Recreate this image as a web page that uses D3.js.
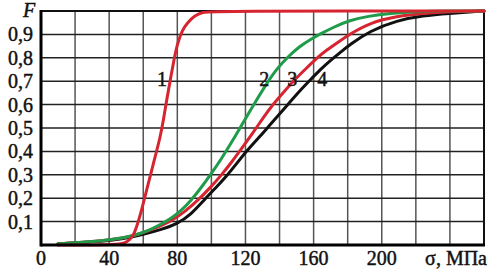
<!DOCTYPE html>
<html>
<head>
<meta charset="utf-8">
<script src="https://cdn.jsdelivr.net/npm/d3@7"></script>
<style>
  html, body { margin: 0; padding: 0; background: #fff; }
  svg { display: block; }
  svg text { font-family: "Liberation Serif", "DejaVu Serif", "Times New Roman", serif; }
</style>
</head>
<body>
<div id="chart"></div>
<script>
// sigma, MPa / probability F for each curve
var sigma1 = [10, 30, 46, 50, 54, 56, 58, 62, 66, 70, 72, 74, 76, 78, 80, 83, 86, 90, 95, 100, 260];
var prob1  = [0, 0, 0.003, 0.01, 0.035, 0.075, 0.12, 0.235, 0.35, 0.46, 0.54, 0.63, 0.71, 0.79, 0.86, 0.92, 0.95, 0.98, 0.995, 1, 1];

var sigma2 = [10, 20, 30, 40, 50, 58, 64, 70, 76, 82, 88, 94, 100, 106, 112, 118, 124, 132, 138, 145, 152, 158, 164, 172, 181, 192, 205, 220, 240, 260];
var prob2  = [0.005, 0.01, 0.015, 0.022, 0.032, 0.048, 0.065, 0.087, 0.112, 0.145, 0.19, 0.245, 0.305, 0.37, 0.44, 0.515, 0.59, 0.685, 0.75, 0.805, 0.85, 0.878, 0.902, 0.932, 0.96, 0.978, 0.99, 0.997, 1, 1];

var sigma3 = [10, 30, 50, 60, 68, 76, 84, 92, 100, 106, 112, 118, 124, 130, 136, 142, 148, 155, 162, 168, 174, 181, 193, 209, 224, 240, 260];
var prob3  = [0.005, 0.013, 0.03, 0.052, 0.075, 0.1, 0.14, 0.19, 0.25, 0.3, 0.355, 0.415, 0.475, 0.54, 0.6, 0.65, 0.7, 0.75, 0.8, 0.835, 0.865, 0.9, 0.95, 0.978, 0.99, 0.997, 1];

var sigma4 = [10, 30, 50, 60, 70, 80, 88, 96, 102, 109, 115, 121, 128, 134, 140, 146, 152, 158, 164, 170, 176, 181, 193, 209, 224, 240, 255, 260];
var prob4  = [0.005, 0.012, 0.028, 0.045, 0.065, 0.09, 0.13, 0.195, 0.24, 0.295, 0.35, 0.405, 0.46, 0.51, 0.56, 0.61, 0.66, 0.705, 0.75, 0.79, 0.825, 0.855, 0.915, 0.96, 0.98, 0.99, 0.997, 1];

var xTicks = [0, 40, 80, 120, 160, 200];
var yTicks = [0.1, 0.2, 0.3, 0.4, 0.5, 0.6, 0.7, 0.8, 0.9];
var curveNames = ["1", "2", "3", "4"];
var labelSigma = [71, 131, 147.5, 165];   // where the number labels sit
var labelProb = [0.71, 0.71, 0.71, 0.71];

var attrs = {
  svgWidth: 490,
  svgHeight: 274,
  left: 41,
  right: 484,
  top: 11,
  bottom: 245,
  red: "#d62430",
  green: "#1f9b4a",
  black: "#111"
};

var svg = d3.select("#chart").append("svg")
  .attr("width", attrs.svgWidth)
  .attr("height", attrs.svgHeight);

var x = d3.scaleLinear().domain([0, 260]).range([attrs.left, attrs.right]);
var y = d3.scaleLinear().domain([0, 1]).range([attrs.bottom, attrs.top]);

// grid
svg.append("g").selectAll("line")
  .data(d3.range(20, 260, 20))
  .enter().append("line")
  .attr("x1", d => x(d)).attr("x2", d => x(d))
  .attr("y1", attrs.top).attr("y2", attrs.bottom)
  .attr("stroke", "#555").attr("stroke-width", 1.5);

svg.append("g").selectAll("line")
  .data(yTicks)
  .enter().append("line")
  .attr("x1", attrs.left).attr("x2", attrs.right)
  .attr("y1", d => y(d)).attr("y2", d => y(d))
  .attr("stroke", "#222").attr("stroke-width", 1.5);

// frame (top/right thinner)
svg.append("rect")
  .attr("x", attrs.left).attr("y", attrs.top)
  .attr("width", attrs.right - attrs.left).attr("height", attrs.bottom - attrs.top)
  .attr("fill", "none").attr("stroke", "#111").attr("stroke-width", 2);

// curves
var line = d3.line()
  .x(d => x(d[0]))
  .y(d => y(d[1]))
  .curve(d3.curveBasis);

var curves = [
  { s: sigma4, p: prob4, color: attrs.black },
  { s: sigma3, p: prob3, color: attrs.red },
  { s: sigma2, p: prob2, color: attrs.green },
  { s: sigma1, p: prob1, color: attrs.red }
];

curves.forEach(function (c) {
  svg.append("path")
    .datum(d3.zip(c.s, c.p))
    .attr("d", line)
    .attr("fill", "none")
    .attr("stroke", c.color)
    .attr("stroke-width", 3)
    .attr("stroke-linejoin", "round")
    .attr("stroke-linecap", "round");
});

// thick left and bottom axes
svg.append("line")
  .attr("x1", attrs.left).attr("x2", attrs.left)
  .attr("y1", attrs.top - 1).attr("y2", attrs.bottom + 1.5)
  .attr("stroke", "#000").attr("stroke-width", 3);
svg.append("line")
  .attr("x1", attrs.left).attr("x2", attrs.right + 1)
  .attr("y1", attrs.bottom).attr("y2", attrs.bottom)
  .attr("stroke", "#000").attr("stroke-width", 3);

// all labels share one look; a thin stroke thickens the serif face a bit
function label(sel) {
  return sel.attr("font-size", 20)
    .attr("fill", "#111")
    .attr("stroke", "#111")
    .attr("stroke-width", 0.45);
}

svg.append("g").selectAll("text")
  .data(yTicks)
  .enter().append("text")
  .attr("x", 33)
  .attr("y", d => y(d) + 7)
  .attr("text-anchor", "end")
  .call(label)
  .text(d => d3.format(".1f")(d).replace(".", ","));

svg.append("g").selectAll("text")
  .data(xTicks)
  .enter().append("text")
  .attr("x", d => x(d))
  .attr("y", 265)
  .attr("text-anchor", "middle")
  .call(label)
  .text(d => d);

svg.append("text")
  .attr("x", 487).attr("y", 265)
  .attr("text-anchor", "end")
  .call(label)
  .text("σ, МПа");

svg.append("text")
  .attr("x", 23).attr("y", 17)
  .attr("font-style", "italic")
  .call(label)
  .text("F");

// curve numbers
svg.append("g").selectAll("text")
  .data(curveNames)
  .enter().append("text")
  .attr("x", (d, i) => x(labelSigma[i]))
  .attr("y", (d, i) => y(labelProb[i]) + 7)
  .attr("text-anchor", "middle")
  .call(label)
  .text(d => d);
</script>
</body>
</html>
